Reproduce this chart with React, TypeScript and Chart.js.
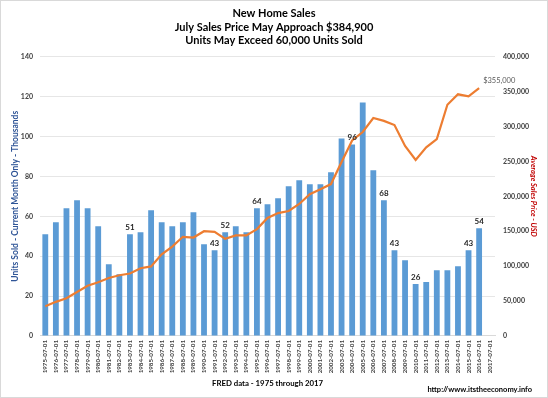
import React, { useEffect, useRef } from 'react';
import { Chart, registerables } from 'chart.js';

Chart.register(...registerables);

const categories = [
  '1975-07-01', '1976-07-01', '1977-07-01', '1978-07-01', '1979-07-01', '1980-07-01', '1981-07-01',
  '1982-07-01', '1983-07-01', '1984-07-01', '1985-07-01', '1986-07-01', '1987-07-01', '1988-07-01',
  '1989-07-01', '1990-07-01', '1991-07-01', '1992-07-01', '1993-07-01', '1994-07-01', '1995-07-01',
  '1996-07-01', '1997-07-01', '1998-07-01', '1999-07-01', '2000-07-01', '2001-07-01', '2002-07-01',
  '2003-07-01', '2004-07-01', '2005-07-01', '2006-07-01', '2007-07-01', '2008-07-01', '2009-07-01',
  '2010-07-01', '2011-07-01', '2012-07-01', '2013-07-01', '2014-07-01', '2015-07-01', '2016-07-01',
  '2017-07-01',
];

const unitsSold = [
  51, 57, 64, 68, 64, 55, 36, 31, 51, 52, 63, 57, 55, 57, 62, 46, 43, 52, 55, 52, 64,
  66, 69, 75, 78, 76, 76, 82, 99, 96, 117, 83, 68, 43, 38, 26, 27, 33, 33, 35, 43, 54, null,
];

const avgPrice = [
  42600, 48900, 54000, 63000, 72000, 77000, 83000, 87000, 89500, 97000, 99600, 117000, 128000, 142000,
  141000, 150000, 149000, 139000, 144000, 144000, 153000, 169000, 176000, 179000, 189000, 203000,
  210000, 217500, 249000, 280000, 292000, 312000, 308000, 302000, 272000, 252000, 270000, 282000,
  331000, 346000, 343000, 355000, null,
];

const labeledBars = [
  '1983-07-01', '1991-07-01', '1992-07-01', '1995-07-01', '2004-07-01', '2007-07-01',
  '2008-07-01', '2010-07-01', '2015-07-01', '2016-07-01',
];

const titleLines = [
  'New Home Sales',
  'July Sales Price May Approach $384,900',
  'Units May Exceed 60,000 Units Sold',
];

const priceLabel = '$355,000';
const footerText = 'http://www.itstheeconomy.info';
const FONT = 'Lato, "Open Sans", sans-serif';

const extrasPlugin = {
  id: 'extras',
  afterDatasetsDraw(chart: any) {
    const ctx = chart.ctx;
    ctx.save();
    // bar labels
    const barMeta = chart.getDatasetMeta(0);
    ctx.font = `bold 8px ${FONT}`;
    ctx.fillStyle = '#262626';
    ctx.textAlign = 'center';
    ctx.textBaseline = 'bottom';
    categories.forEach((c, i) => {
      if (labeledBars.includes(c) && unitsSold[i] != null) {
        const el = barMeta.data[i];
        ctx.fillText(String(unitsSold[i]), el.x, el.y - 3);
      }
    });
    // price label at last point
    const lineMeta = chart.getDatasetMeta(1);
    let last = -1;
    avgPrice.forEach((v, i) => { if (v != null) last = i; });
    if (last >= 0) {
      const p = lineMeta.data[last];
      ctx.font = `7.5px ${FONT}`;
      ctx.fillStyle = '#595959';
      ctx.textAlign = 'left';
      ctx.textBaseline = 'middle';
      ctx.fillText(priceLabel, p.x + 4, p.y - 7);
    }
    ctx.restore();
  },
  afterDraw(chart: any) {
    const ctx = chart.ctx;
    ctx.save();
    ctx.font = `bold 7.5px ${FONT}`;
    ctx.fillStyle = '#000000';
    ctx.textAlign = 'right';
    ctx.textBaseline = 'middle';
    ctx.fillText(footerText, 532, 390);
    ctx.strokeStyle = '#d9d9d9';
    ctx.lineWidth = 1;
    ctx.strokeRect(0.5, 0.5, chart.width - 1, chart.height - 1);
    ctx.restore();
  },
};

export default function App() {
  const ref = useRef<HTMLCanvasElement | null>(null);

  useEffect(() => {
    document.body.style.margin = '0';
    if (!ref.current) return;
    const chart = new Chart(ref.current, {
      type: 'bar',
      data: {
        labels: categories,
        datasets: [
          {
            type: 'bar',
            label: 'Units Sold',
            data: unitsSold,
            backgroundColor: '#5b9bd5',
            barPercentage: 0.55,
            categoryPercentage: 1,
            yAxisID: 'y',
            order: 2,
          },
          {
            type: 'line',
            label: 'Average Sales Price',
            data: avgPrice,
            borderColor: '#ed7d31',
            borderWidth: 2.2,
            pointRadius: 0,
            tension: 0,
            yAxisID: 'y1',
            order: 1,
          },
        ] as any,
      },
      plugins: [extrasPlugin],
      options: {
        animation: false,
        responsive: true,
        maintainAspectRatio: false,
        layout: { padding: 0 },
        plugins: {
          legend: { display: false },
          tooltip: { enabled: false },
          title: {
            display: true,
            text: titleLines,
            color: '#000000',
            font: { family: FONT, size: 11, weight: 'bold', lineHeight: 1.23 },
            padding: { top: 7, bottom: 9 },
          },
        },
        scales: {
          x: {
            grid: { display: false, drawTicks: false },
            border: { display: true, color: '#d9d9d9' },
            ticks: {
              autoSkip: false,
              maxRotation: 90,
              minRotation: 90,
              padding: 4,
              color: '#404040',
              font: { family: FONT, size: 6.2, weight: 'bold' },
            },
            title: {
              display: true,
              text: 'FRED data - 1975 through 2017',
              color: '#000000',
              font: { family: FONT, size: 7.8, weight: 'bold' },
              padding: { top: 0, bottom: 10 },
            },
            afterFit(scale: any) { scale.height = 62; },
          },
          y: {
            position: 'left',
            min: 0,
            max: 140,
            ticks: {
              stepSize: 20,
              padding: 7,
              color: '#404040',
              font: { family: FONT, size: 7, weight: 'bold' },
            },
            grid: { color: '#e6e6e6', drawTicks: false },
            border: { display: false },
            title: {
              display: true,
              text: 'Units Sold - Current Month Only - Thousands',
              color: '#2f5597',
              font: { family: FONT, size: 8.5, weight: 'bold' },
              padding: { top: 10, bottom: 0 },
            },
            afterFit(scale: any) { scale.width = 40; },
          },
          y1: {
            position: 'right',
            min: 0,
            max: 400000,
            ticks: {
              stepSize: 50000,
              padding: 8,
              color: '#404040',
              font: { family: FONT, size: 7, weight: 'bold' },
              callback: (v: any) => Number(v).toLocaleString('en-US'),
            },
            grid: { display: false, drawTicks: false },
            border: { display: false },
            title: {
              display: true,
              text: 'Average Sales Price - USD',
              color: '#c00000',
              font: { family: FONT, size: 7.5, weight: 'bold', style: 'italic' },
              padding: { top: 10, bottom: 0 },
            },
            afterFit(scale: any) { scale.width = 53; },
          },
        },
      } as any,
    });
    return () => chart.destroy();
  }, []);

  return (
    <div style={{ position: 'absolute', left: 0, top: 0, width: 548, height: 398, background: '#ffffff' }}>
      <canvas ref={ref} />
    </div>
  );
}
